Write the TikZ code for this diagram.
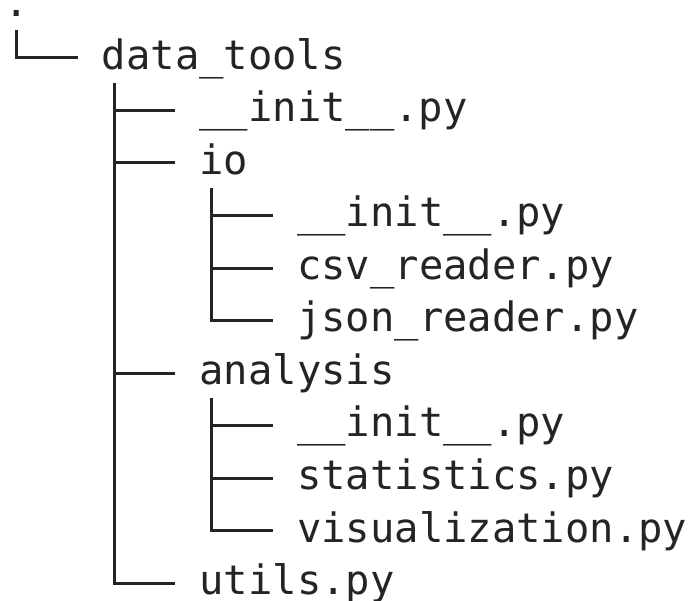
\documentclass[tikz,border=0pt]{standalone}
\usepackage{fontspec}
\setmonofont{DejaVu Sans Mono}
\usetikzlibrary{calc}
\definecolor{ink}{RGB}{36,36,36}
\newcommand{\us}{\char"5F\relax}
\begin{document}
\begin{tikzpicture}[x=1pt,y=-1pt,
  entry/.style={anchor=base west,inner sep=0pt,outer sep=0pt,text=ink,
    font=\ttfamily\fontsize{40.5}{48}\selectfont},
  branch/.style={draw=ink,line width=3pt,line cap=butt,line join=miter}]
\useasboundingbox (0,0) rectangle (691,601);
% entries (column left x, baseline y)
\node[entry] (root)   at (4.3,16.7)    {.};
\node[entry] (dt)     at (101.9,69.2)  {data\us tools};
\node[entry] (init)   at (199.5,121.8) {\us\us init\us\us.py};
\node[entry] (io)     at (199.5,174.3) {io};
\node[entry] (ioinit) at (297.1,226.8) {\us\us init\us\us.py};
\node[entry] (csv)    at (297.1,279.4) {csv\us reader.py};
\node[entry] (json)   at (297.1,331.9) {json\us reader.py};
\node[entry] (an)     at (199.5,384.4) {analysis};
\node[entry] (aninit) at (297.1,437.0) {\us\us init\us\us.py};
\node[entry] (stats)  at (297.1,489.5) {statistics.py};
\node[entry] (vis)    at (297.1,542.0) {visualization.py};
\node[entry] (utils)  at (199.5,594.5) {utils.py};
% branches
\foreach \p/\c in {root/dt, dt/init, dt/io, dt/an, dt/utils,
                   io/ioinit, io/csv, io/json,
                   an/aninit, an/stats, an/vis}
  \draw[branch] ($(\p.base west)+(12.2,13.7)$) |- ($(\c.base west)+(-24.4,-11.3)$);
\end{tikzpicture}
\end{document}
